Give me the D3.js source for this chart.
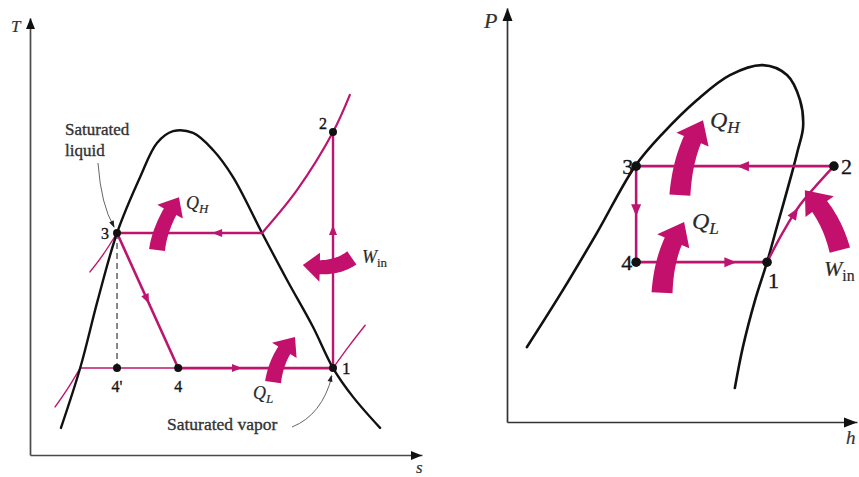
<!DOCTYPE html>
<html><head><meta charset="utf-8">
<script src="https://cdn.jsdelivr.net/npm/d3@7"></script>
<style>body{margin:0;background:#fff}svg{display:block}</style>
</head><body>
<svg id="c" width="859" height="477"></svg>
<script>
// ---------- DATA (schematic units) ----------
// T-s diagram
const tsDome = [[0.79,0.62],[1.28,1.99],[1.73,3.55],[2.22,5.08],[2.81,6.36],[3.24,7.14],[3.65,7.41],[4.16,7.37],[4.67,6.98],[5.18,6.36],[5.92,5.08],[6.56,4.00],[7.22,2.93],[7.73,1.99],[8.24,1.33],[8.93,0.62]];
const tsStateIds = ["1","2","3","4","4'"];
const tsStateS   = [7.73, 7.73, 2.22, 3.78, 2.22];
const tsStateT   = [1.99, 7.39, 5.08, 1.99, 1.99];
const tsHighIsobar = [[5.92,5.08],[6.81,6.06],[7.73,7.39],[8.16,8.24]];
const tsLowIsobarR = [[7.73,1.99],[8.16,2.52],[8.55,2.97]];
const tsLiqLineHigh = [[1.53,4.19],[1.86,4.58],[2.22,5.08]];
const tsLiqLineLow  = [[0.64,1.10],[0.94,1.49],[1.28,1.99]];
const tsSatVapHigh = [5.92,5.08];
const tsSatLiqLow  = [1.28,1.99];
// fat heat/work arrows: [base, control, tip]
const tsQH  = [[3.24,4.69],[3.32,5.26],[3.80,5.90]];
const tsQL  = [[6.20,1.67],[6.30,2.29],[6.76,2.70]];
const tsWin = [[8.21,4.51],[7.70,4.19],[6.96,4.35]];

// P-h diagram
const phDome = [[0.57,1.81],[1.60,3.19],[2.57,4.57],[3.66,6.18],[4.46,6.98],[5.43,7.78],[6.37,8.38],[7.31,8.62],[8.00,8.38],[8.37,7.78],[8.46,7.13],[8.31,6.57],[8.14,6.01],[7.71,4.71],[7.43,3.86],[7.09,2.95],[6.74,1.81],[6.51,0.82]];
const phStateIds = ["1","2","3","4"];
const phStateH   = [7.43, 9.34, 3.69, 3.69];
const phStateP   = [3.86, 6.18, 6.18, 3.86];
const phCompress = [[7.43,3.86],[7.89,4.59],[8.37,5.24],[9.34,6.18]];
const phQH  = [[4.94,5.48],[5.03,6.57],[5.60,7.29]];
const phQL  = [[4.43,3.12],[4.49,4.15],[5.06,4.83]];
const phWin = [[9.51,4.15],[9.23,5.05],[8.51,5.60]];

// ---------- STYLE ----------
const MAG = "#BC1570", FAT = "#C2106C", AX = "#3a3a3a", SERIF = "'Liberation Serif','DejaVu Serif',serif";
const svg = d3.select("#c");

// ---------- SCALES ----------
const xs = d3.scaleLinear().domain([0,10]).range([30,422]);
const yT = d3.scaleLinear().domain([0,10]).range([455,18]);
const xh = d3.scaleLinear().domain([0,10]).range([507,857]);
const yP = d3.scaleLinear().domain([0,10]).range([422,8]);

const ts = p => [xs(p[0]), yT(p[1])];
const ph = p => [xh(p[0]), yP(p[1])];
const smooth = d3.curveCatmullRom.alpha(0.5);

function curve(g, pts, f, stroke, w, dash){
  const p = g.append("path").attr("d", d3.line().x(d=>f(d)[0]).y(d=>f(d)[1]).curve(smooth)(pts))
    .attr("fill","none").attr("stroke",stroke).attr("stroke-width",w).attr("stroke-linecap","round");
  if(dash) p.attr("stroke-dasharray",dash);
  return p;
}
function seg(g,a,b,stroke,w,dash){
  const l = g.append("line").attr("x1",a[0]).attr("y1",a[1]).attr("x2",b[0]).attr("y2",b[1])
    .attr("stroke",stroke).attr("stroke-width",w);
  if(dash) l.attr("stroke-dasharray",dash);
}
function headAt(g,a,b,frac,len,hw,fill){
  const x=a[0]+(b[0]-a[0])*frac, y=a[1]+(b[1]-a[1])*frac;
  const dx=b[0]-a[0], dy=b[1]-a[1], L=Math.hypot(dx,dy), ux=dx/L, uy=dy/L;
  const tip=[x+ux*len/2,y+uy*len/2], bx=x-ux*len/2, by=y-uy*len/2;
  g.append("path").attr("d",`M${tip[0]},${tip[1]}L${bx-uy*hw},${by+ux*hw}L${bx+uy*hw},${by-ux*hw}Z`).attr("fill",fill);
}
function fatArrow(g,pts,f,w,hw,hl){
  const p0=f(pts[0]),p1=f(pts[1]),p2=f(pts[2]);
  const B=t=>[(1-t)*(1-t)*p0[0]+2*(1-t)*t*p1[0]+t*t*p2[0],(1-t)*(1-t)*p0[1]+2*(1-t)*t*p1[1]+t*t*p2[1]];
  const D=t=>[2*(1-t)*(p1[0]-p0[0])+2*t*(p2[0]-p1[0]),2*(1-t)*(p1[1]-p0[1])+2*t*(p2[1]-p1[1])];
  let th=0.5;
  for(let t=1;t>0;t-=0.002){const b=B(t); if(Math.hypot(b[0]-p2[0],b[1]-p2[1])>=hl){th=t;break;}}
  const L=[],R=[],N=24;
  for(let i=0;i<=N;i++){const t=th*i/N,b=B(t),d=D(t),l=Math.hypot(d[0],d[1]),n=[-d[1]/l,d[0]/l];
    const ww=w*(1-0.12*i/N)/2;
    L.push([b[0]+n[0]*ww,b[1]+n[1]*ww]); R.push([b[0]-n[0]*ww,b[1]-n[1]*ww]);}
  const b=B(th),d=D(th),l=Math.hypot(d[0],d[1]),n=[-d[1]/l,d[0]/l];
  const h1=[b[0]+n[0]*hw/2,b[1]+n[1]*hw/2], h2=[b[0]-n[0]*hw/2,b[1]-n[1]*hw/2];
  const all=[...L,h1,p2,h2,...R.reverse()];
  g.append("path").attr("d","M"+all.map(p=>p.join(",")).join("L")+"Z").attr("fill",FAT);
}
function label(g,x,y,txt,size,opts={}){
  const fill=opts.fill||"#151515";
  return g.append("text").attr("x",x).attr("y",y).text(txt).attr("font-family",SERIF)
    .attr("font-size",size).attr("fill",fill).attr("stroke",fill).attr("stroke-width",opts.sw||0.35)
    .attr("text-anchor",opts.anchor||"start").attr("font-style",opts.italic?"italic":"normal");
}
function subLabel(g,x,y,main,sub,size,subItalic){
  const t=g.append("text").attr("x",x).attr("y",y).attr("font-family",SERIF).attr("font-size",size)
    .attr("fill","#2a2a2a").attr("stroke","#2a2a2a").attr("stroke-width",0.2);
  t.append("tspan").text(main).attr("font-style","italic");
  t.append("tspan").text(sub).attr("font-size",size*0.72).attr("dy",size*0.22).attr("font-style",subItalic?"italic":"normal");
}
function axes(g,xsc,ysc,tipLen,tipHw,col){
  const ax=g.append("g").attr("transform",`translate(0,${ysc.range()[0]})`)
    .call(d3.axisBottom(xsc).tickValues([]).tickSizeOuter(0));
  ax.select(".domain").attr("stroke",col).attr("stroke-width",1.7);
  const ay=g.append("g").attr("transform",`translate(${xsc.range()[0]},0)`)
    .call(d3.axisLeft(ysc).tickValues([]).tickSizeOuter(0));
  ay.select(".domain").attr("stroke",col).attr("stroke-width",1.7);
  const x0=xsc.range()[0]+0.5, y0=ysc.range()[0]+0.5, xt=xsc.range()[1], yt=ysc.range()[1];
  g.append("path").attr("d",`M${x0},${yt}L${x0-tipHw},${yt+tipLen}L${x0+tipHw},${yt+tipLen}Z`).attr("fill","#111");
  g.append("path").attr("d",`M${xt},${y0}L${xt-tipLen},${y0-tipHw}L${xt-tipLen},${y0+tipHw}Z`).attr("fill","#111");
}

// ================= T-s panel =================
const gL = svg.append("g");
axes(gL,xs,yT,11,4.5,"#4a4a4a");
label(gL,11,32,"T",17,{italic:true,fill:"#333",sw:0.2});
label(gL,416,473,"s",17,{italic:true,fill:"#333",sw:0.2});

const S = i => ts([tsStateS[i],tsStateT[i]]);
const P1=S(0),P2=S(1),P3=S(2),P4=S(3),P4p=S(4);
seg(gL,P3,P4p,"#555",1.4,"6,4");
curve(gL,tsLiqLineHigh,ts,MAG,1.4);
curve(gL,tsLiqLineLow,ts,MAG,1.4);
curve(gL,tsLowIsobarR,ts,MAG,1.4);
seg(gL,ts(tsSatLiqLow),P4,MAG,1.6);
curve(gL,tsDome,ts,"#111",2.4);
curve(gL,tsHighIsobar,ts,MAG,2.2);
seg(gL,ts(tsSatVapHigh),P3,MAG,2.6);
seg(gL,P3,P4,MAG,2.6);
seg(gL,P4,P1,MAG,2.8);
seg(gL,P1,P2,MAG,2.4);
headAt(gL,P3,P4,0.49,10,4,MAG);
headAt(gL,P4,P1,0.38,10,4,MAG);
headAt(gL,P1,P2,0.585,10,4,MAG);
headAt(gL,ts(tsSatVapHigh),P3,0.31,10,4,MAG);
fatArrow(gL,tsQH,ts,16,29,17);
fatArrow(gL,tsQL,ts,16,29,17);
fatArrow(gL,tsWin,ts,16,29,17);
gL.append("path").attr("d",`M98,163Q101,205 ${P3[0]-3},${P3[1]-6}`).attr("fill","none").attr("stroke","#666").attr("stroke-width",1);
headAt(gL,[108,214],[P3[0]-2,P3[1]-4],0.7,7,2.5,"#222");
gL.append("path").attr("d",`M292,427Q322,415 ${P1[0]-1},${P1[1]+8}`).attr("fill","none").attr("stroke","#666").attr("stroke-width",1);
headAt(gL,[328,390],[P1[0]-1,P1[1]+5],0.7,7,2.5,"#222");
gL.selectAll("circle.st").data([P1,P2,P3,P4,P4p]).join("circle").attr("class","st")
  .attr("cx",d=>d[0]).attr("cy",d=>d[1]).attr("r",4).attr("fill","#111");
label(gL,P1[0]+9,P1[1]+6,tsStateIds[0],17);
label(gL,P2[0]-10,P2[1]-3,tsStateIds[1],16,{anchor:"middle"});
label(gL,P3[0]-8,P3[1]+6,tsStateIds[2],16,{anchor:"end"});
label(gL,P4[0],P4[1]+24,tsStateIds[3],16,{anchor:"middle"});
label(gL,P4p[0],P4p[1]+24,tsStateIds[4],16,{anchor:"middle"});
label(gL,65,135,"Saturated",17,{fill:"#333"});
label(gL,65,156,"liquid",17,{fill:"#333"});
label(gL,167,430,"Saturated vapor",17.5,{fill:"#333"});
subLabel(gL,186,209,"Q","H",18,true);
subLabel(gL,253,399,"Q","L",18,true);
subLabel(gL,362,263,"W","in",18,false);

// ================= P-h panel =================
const gR = svg.append("g");
axes(gR,xh,yP,13,5,"#333");
label(gR,484,28,"P",22,{italic:true,fill:"#333",sw:0.2});
label(gR,846,444,"h",19,{italic:true,fill:"#333",sw:0.2});
const Q = i => ph([phStateH[i],phStateP[i]]);
const R1=Q(0),R2=Q(1),R3=Q(2),R4=Q(3);
curve(gR,phDome,ph,"#111",2.6);
seg(gR,R2,R3,MAG,2.8);
seg(gR,R3,R4,MAG,2.6);
seg(gR,R4,R1,MAG,2.8);
curve(gR,phCompress,ph,MAG,2.4);
headAt(gR,R2,R3,0.46,12,5,MAG);
headAt(gR,R3,R4,0.46,12,5,MAG);
headAt(gR,R4,R1,0.72,12,5,MAG);
headAt(gR,ph(phCompress[1]),ph(phCompress[2]),0.7,12,5,MAG);
fatArrow(gR,phQH,ph,21,35,22);
fatArrow(gR,phQL,ph,21,35,22);
fatArrow(gR,phWin,ph,21,35,22);
gR.selectAll("circle.st").data([R1,R2,R3,R4]).join("circle").attr("class","st")
  .attr("cx",d=>d[0]).attr("cy",d=>d[1]).attr("r",4.8).attr("fill","#111");
label(gR,R3[0]-3,R3[1]+8,phStateIds[2],22,{anchor:"end"});
label(gR,R2[0]+7,R2[1]+8,phStateIds[1],22);
label(gR,R4[0]-4,R4[1]+8,phStateIds[3],22,{anchor:"end"});
label(gR,R1[0]+1,R1[1]+26,phStateIds[0],22);
subLabel(gR,710,128,"Q","H",24,true);
subLabel(gR,692,229,"Q","L",24,true);
subLabel(gR,824,276,"W","in",22,false);
</script>
</body></html>
